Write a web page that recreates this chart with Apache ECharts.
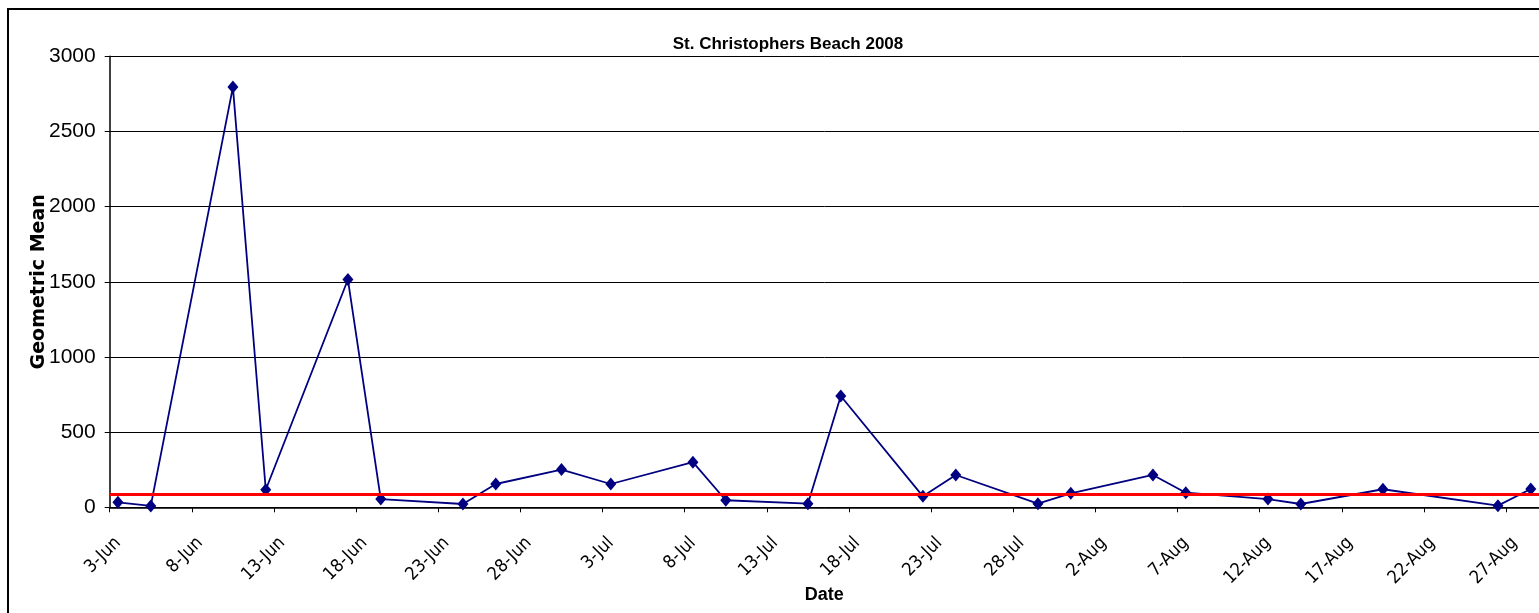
<!DOCTYPE html>
<html>
<head>
<meta charset="utf-8">
<script src="https://cdn.jsdelivr.net/npm/echarts@6/dist/echarts.min.js"></script>
<style>
html,body{margin:0;padding:0;background:#fff;}
#chart{width:1539px;height:613px;}
</style>
</head>
<body>
<div id="chart"></div>
<script>
// ---- data ----
const chartTitle = 'St. Christophers Beach 2008';
const xAxisTitle = 'Date';
const yAxisTitle = 'Geometric Mean';
const axisStart = '2008-06-03';
const axisEnd = '2008-08-28';
const sampleDates = ['2008-06-03','2008-06-05','2008-06-10','2008-06-12','2008-06-17','2008-06-19','2008-06-24','2008-06-26','2008-06-30','2008-07-03','2008-07-08','2008-07-10','2008-07-15','2008-07-17','2008-07-22','2008-07-24','2008-07-29','2008-07-31','2008-08-05','2008-08-07','2008-08-12','2008-08-14','2008-08-19','2008-08-26','2008-08-28'];
const geoMean = [33, 9, 2795, 117, 1515, 55, 22, 155, 251, 155, 300, 47, 24, 740, 73, 215, 24, 93, 215, 97, 55, 22, 120, 11, 122];
const threshold = 88;
const yTicks = [0, 500, 1000, 1500, 2000, 2500, 3000];

// ---- build category axis (one slot per day) ----
const MONTHS = ['Jan','Feb','Mar','Apr','May','Jun','Jul','Aug','Sep','Oct','Nov','Dec'];
function parseD(s){ const p = s.split('-').map(Number); return Date.UTC(p[0], p[1]-1, p[2]); }
const DAY = 86400000;
const categories = [];
const keys = [];
for (let t = parseD(axisStart); t <= parseD(axisEnd); t += DAY) {
  const d = new Date(t);
  categories.push(d.getUTCDate() + '-' + MONTHS[d.getUTCMonth()]);
  keys.push(t);
}
const seriesData = keys.map(() => null);
sampleDates.forEach((s, i) => { seriesData[keys.indexOf(parseD(s))] = geoMean[i]; });

const narrow = '"DejaVu Sans Condensed", "DejaVu Sans", sans-serif';
const arial = '"Liberation Sans", Arial, sans-serif';

const chart = echarts.init(document.getElementById('chart'), null, {renderer: 'canvas'});
chart.setOption({
  animation: false,
  backgroundColor: '#ffffff',
  title: {
    text: chartTitle,
    left: 783,
    top: 31,
    textAlign: 'center',
    textStyle: {fontFamily: arial, fontWeight: 'bold', fontSize: 17, color: '#000'}
  },
  graphic: [{
    type: 'rect',
    shape: {x: 8, y: 9, width: 1700, height: 800},
    style: {fill: 'none', stroke: '#000', lineWidth: 2},
    silent: true
  }],
  grid: {left: 109.7, top: 56.3, right: -3.6, bottom: 105.7, containLabel: false},
  xAxis: {
    type: 'category',
    data: categories,
    boundaryGap: true,
    name: xAxisTitle,
    nameLocation: 'middle',
    nameGap: 79,
    nameMoveOverlap: false,
    nameTextStyle: {fontFamily: arial, fontWeight: 'bold', fontSize: 18, color: '#000'},
    axisLine: {lineStyle: {color: '#000', width: 1.5}},
    axisTick: {show: true, interval: 4, length: 5, inside: false, lineStyle: {color: '#000'}},
    axisLabel: {interval: 4, rotate: 45, margin: 33, fontFamily: narrow, fontSize: 18, color: '#000'},
    splitLine: {show: false}
  },
  yAxis: {
    type: 'value',
    min: yTicks[0],
    max: yTicks[yTicks.length - 1],
    interval: yTicks[1] - yTicks[0],
    name: yAxisTitle,
    nameLocation: 'middle',
    nameGap: 61,
    nameMoveOverlap: false,
    nameTextStyle: {fontFamily: '"DejaVu Sans", sans-serif', fontWeight: 'bold', fontSize: 19, color: '#000'},
    axisLine: {show: true, lineStyle: {color: '#000', width: 1.5}},
    axisTick: {show: true, length: 5, lineStyle: {color: '#000'}},
    axisLabel: {margin: 14, fontFamily: arial, fontSize: 21, color: '#000', formatter: v => String(v)},
    splitLine: {show: true, lineStyle: {color: '#000', width: 1}}
  },
  series: [{
    type: 'line',
    data: seriesData,
    connectNulls: true,
    showAllSymbol: true,
    symbol: 'diamond',
    symbolSize: [11, 13],
    itemStyle: {color: '#000080'},
    lineStyle: {color: '#000080', width: 1.8},
    markLine: {
      silent: true,
      symbol: 'none',
      label: {show: false},
      lineStyle: {color: '#ff0000', width: 3, type: 'solid'},
      data: [{yAxis: threshold}]
    }
  }]
});
</script>
</body>
</html>
